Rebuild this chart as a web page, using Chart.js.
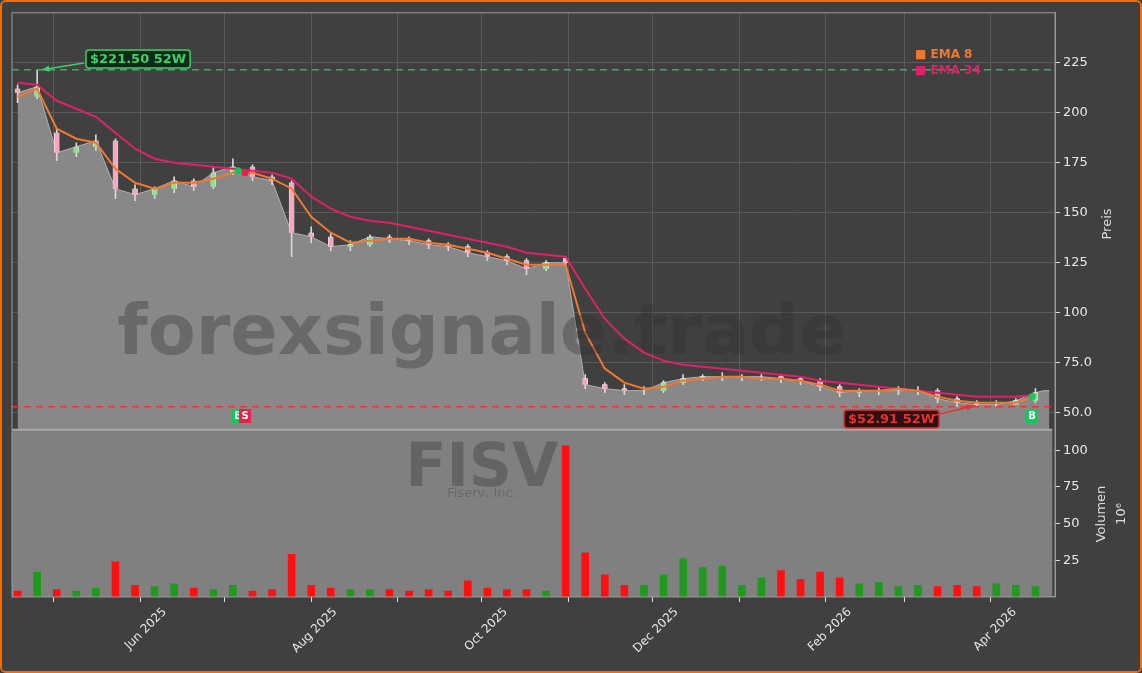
<!DOCTYPE html>
<html>
<head>
<meta charset="utf-8">
<script src="https://cdn.jsdelivr.net/npm/chart.js@4.4.1/dist/chart.umd.min.js"></script>
<style>
  html, body { margin: 0; padding: 0; background: #404040; }
  #wrap { width: 1142px; height: 673px; box-sizing: border-box; border: 2px solid #ff6a00; border-radius: 6px; overflow: hidden; }
</style>
</head>
<body>
<div id="wrap"><canvas id="c" width="1138" height="669"></canvas></div>
<script>
// days counted from 1 Jun 2025, one entry per week
const days = [];
for (let i = 0; i < 53; i++) days.push(-44 + 7 * i);

const closes = [210, 213, 180, 183, 186, 162, 159, 162, 166, 163, 170, 173, 168, 166, 140, 138, 133, 134, 138, 137,
  136, 134, 133, 130, 128, 126, 122, 125, 125, 64, 62, 61, 61, 65, 67, 68, 68, 68, 68, 67,
  66, 63, 60, 61, 61, 61, 61, 57, 55, 54, 54, 56, 60];
const opens = [212, 208, 190, 180, 183, 186, 162, 159, 162, 166, 163, 170, 173, 168, 165, 140, 138, 133, 134, 138,
  137, 136, 134, 133, 130, 128, 126, 122, 127, 67, 64, 62, 61, 61, 65, 67, 68, 68, 68, 68,
  67, 66, 63, 60, 61, 61, 61, 61, 57, 55, 54, 54, 56];
const highs = [214, 221.5, 192, 185, 189, 187, 164, 163, 168, 167, 173, 177, 174, 169, 166, 143, 140, 136, 139, 139,
  138, 137, 135, 134, 131, 129, 127, 126, 128, 69, 65, 64, 63, 66, 69, 69, 70, 69, 69, 69,
  68, 67, 64, 62, 63, 63, 63, 62, 58, 56, 56, 57, 62];
const lows = [205, 207, 176, 178, 181, 157, 156, 157, 160, 161, 162, 169, 166, 164, 128, 135, 131, 131, 133, 135,
  134, 132, 131, 128, 126, 124, 119, 121, 123, 62, 60, 59, 59, 60, 64, 66, 66, 66, 66, 65,
  64, 61, 58, 58, 59, 59, 59, 55, 53, 53, 53, 54, 55];
const ema8 = [208, 212, 192, 187, 185, 172, 165, 162, 165, 165, 167, 170, 170, 167, 162, 148, 140, 135, 136, 137,
  137, 135, 134, 132, 130, 127, 124, 124, 124, 90, 72, 65, 62, 63, 66, 67, 68, 68, 67, 67,
  66, 64, 61, 61, 61, 62, 61, 58, 56, 55, 55, 55, 58];
const ema34 = [215, 214, 206, 202, 198, 190, 182, 177, 175, 174, 173, 172, 171, 170, 167, 158, 152, 148, 146, 145,
  143, 141, 139, 137, 135, 133, 130, 129, 128, 112, 97, 87, 80, 76, 74, 73, 72, 71, 70, 69,
  68, 66, 65, 64, 63, 62, 61, 60, 59, 58, 58, 58, 59];
const volumes = [4, 17, 5, 4, 6, 24, 8, 7, 9, 6, 5, 8, 4, 5, 29, 8, 6, 5, 5, 5,
  4, 5, 4, 11, 6, 5, 5, 4, 103, 30, 15, 8, 8, 15, 26, 20, 21, 8, 13, 18,
  12, 17, 13, 9, 10, 7, 8, 7, 8, 7, 9, 8, 7];

const monthDays = [-31, 0, 30, 61, 92, 122, 153, 183, 214, 245, 273, 304];
const monthNames = ['', 'Jun 2025', '', 'Aug 2025', '', 'Oct 2025', '', 'Dec 2025', '', 'Feb 2026', '', 'Apr 2026'];
const priceTicks = [50, 75, 100, 125, 150, 175, 200, 225];
const volumeTicks = [25, 50, 75, 100];
const high52 = 221.5, low52 = 52.91;
const endDay = 326;

const pts = arr => arr.map((v, i) => ({ x: days[i], y: v }));
const up = i => closes[i] >= opens[i];
const areaPts = pts(closes).concat([{ x: days[52] + 3, y: 61 }, { x: endDay - 1, y: 61 }]);

const overlay = {
  id: 'overlay',
  beforeDraw(chart) {
    const { ctx } = chart;
    ctx.save();
    ctx.fillStyle = '#404040';
    ctx.fillRect(0, 0, chart.width, chart.height);
    ctx.restore();
  },
  beforeDatasetsDraw(chart) {
    const { ctx, chartArea: a, scales } = chart;
    const x = scales.x, v = scales.yv;
    ctx.save();
    ctx.fillStyle = '#808080';
    ctx.fillRect(a.left, v.top, x.getPixelForValue(endDay) - a.left, v.bottom - v.top);
    ctx.restore();
  },
  afterDatasetsDraw(chart) {
    const { ctx, chartArea: a, scales } = chart;
    const x = scales.x, y = scales.y, v = scales.yv;
    ctx.save();
    // watermark
    ctx.textAlign = 'center';
    ctx.textBaseline = 'alphabetic';
    ctx.fillStyle = 'rgba(50,50,50,0.35)';
    ctx.font = 'bold 70px "DejaVu Sans"';
    ctx.fillText('forexsignale.trade', 480, 352);
    ctx.font = 'bold 60px "DejaVu Sans"';
    ctx.fillText('FISV', 480, 484);
    ctx.font = '13px "DejaVu Sans"';
    ctx.fillStyle = 'rgba(60,60,60,0.35)';
    ctx.fillText('Fiserv, Inc.', 480, 495);
    // separator
    ctx.strokeStyle = '#a8a8a8';
    ctx.lineWidth = 2;
    ctx.beginPath();
    ctx.moveTo(a.left, v.top); ctx.lineTo(x.getPixelForValue(endDay), v.top);
    ctx.stroke();
    // 52w lines
    ctx.setLineDash([7, 5]);
    ctx.lineWidth = 1.5;
    const yh = y.getPixelForValue(high52), yl = y.getPixelForValue(low52);
    ctx.strokeStyle = '#2fb35f';
    ctx.beginPath(); ctx.moveTo(a.left, yh); ctx.lineTo(a.right, yh); ctx.stroke();
    ctx.strokeStyle = '#e03838';
    ctx.beginPath(); ctx.moveTo(a.left, yl); ctx.lineTo(a.right, yl); ctx.stroke();
    ctx.setLineDash([]);
    // labels
    const box = (text, bx, by, col, bg, ax, ay, tx, ty) => {
      ctx.font = 'bold 13px "DejaVu Sans"';
      const w = ctx.measureText(text).width + 8;
      ctx.fillStyle = bg; ctx.strokeStyle = col; ctx.lineWidth = 1.5;
      ctx.beginPath(); ctx.roundRect(bx, by, w, 18, 3); ctx.fill(); ctx.stroke();
      ctx.fillStyle = col; ctx.textAlign = 'left'; ctx.textBaseline = 'middle';
      ctx.fillText(text, bx + 4, by + 9.5);
      ctx.beginPath(); ctx.moveTo(ax, ay); ctx.lineTo(tx, ty); ctx.stroke();
      const ang = Math.atan2(ty - ay, tx - ax);
      ctx.beginPath();
      ctx.moveTo(tx, ty);
      ctx.lineTo(tx - 8 * Math.cos(ang - 0.4), ty - 8 * Math.sin(ang - 0.4));
      ctx.lineTo(tx - 8 * Math.cos(ang + 0.4), ty - 8 * Math.sin(ang + 0.4));
      ctx.closePath(); ctx.fill();
    };
    box('$221.50 52W', 84, 48, '#3ccf6a', '#0f2a18', 82, 61, 40, yh);
    box('$52.91 52W', 842, 408, '#e83030', '#2a1010', 930, 414, 972, yl - 1);
    // signal markers
    const mark = (px, txt, col) => {
      ctx.fillStyle = col;
      ctx.fillRect(px - 6, 407, 12, 14);
      ctx.fillStyle = '#fff'; ctx.font = 'bold 10px "DejaVu Sans"';
      ctx.textAlign = 'center'; ctx.textBaseline = 'middle';
      ctx.fillText(txt, px, 414.5);
    };
    mark(236, 'B', '#14c75a');
    mark(243, 'S', '#e8204a');
    mark(1030, 'B', '#14c75a');
    ctx.fillStyle = '#14c75a';
    ctx.beginPath(); ctx.arc(236, y.getPixelForValue(171), 3.5, 0, 7); ctx.fill();
    ctx.beginPath(); ctx.arc(1030, y.getPixelForValue(58), 3.5, 0, 7); ctx.fill();
    ctx.fillStyle = '#e8204a';
    ctx.beginPath(); ctx.arc(243, y.getPixelForValue(170), 3.5, 0, 7); ctx.fill();
    // legend
    ctx.font = 'bold 12px "DejaVu Sans"'; ctx.textAlign = 'left'; ctx.textBaseline = 'middle';
    ctx.fillStyle = '#f07830'; ctx.fillText('■ EMA 8', 913, 53);
    ctx.fillStyle = '#e0206a'; ctx.fillText('■ EMA 34', 913, 69);
    // axis titles
    ctx.fillStyle = '#ddd'; ctx.font = '13px "DejaVu Sans"'; ctx.textAlign = 'center';
    ctx.translate(1106, 222); ctx.rotate(-Math.PI / 2); ctx.fillText('Preis', 0, 0);
    ctx.setTransform(1, 0, 0, 1, 0, 0);
    ctx.translate(1100, 512); ctx.rotate(-Math.PI / 2); ctx.fillText('Volumen', 0, 0);
    ctx.fillText('10⁶', 0, 20);
    ctx.setTransform(1, 0, 0, 1, 0, 0);
    // frame
    ctx.strokeStyle = '#999'; ctx.lineWidth = 1;
    ctx.strokeRect(a.left, a.top, a.right - a.left, a.bottom - a.top);
    ctx.restore();
  }
};

const tickColor = '#e8e8e8';
const grid = { color: '#5a5a5a', tickColor: '#ddd', tickLength: 5, offset: false };
new Chart(document.getElementById('c'), {
  type: 'bar',
  data: {
    datasets: [
      { type: 'line', data: areaPts, yAxisID: 'y', borderColor: '#b0b0b0', borderWidth: 1,
        backgroundColor: '#888888', fill: 'start', pointRadius: 0, tension: 0, order: 10 },
      { data: days.map((d, i) => ({ x: d, y: [lows[i], highs[i]] })), yAxisID: 'y', grouped: false,
        backgroundColor: '#d8d8d8', barThickness: 1, order: 6 },
      { data: days.map((d, i) => ({ x: d, y: [opens[i], closes[i]] })), yAxisID: 'y', grouped: false,
        backgroundColor: days.map((d, i) => up(i) ? '#8fe08f' : '#f5a8bc'),
        borderColor: '#ffffff', borderWidth: 0.5, barThickness: 5, order: 5 },
      { type: 'line', data: pts(ema34), yAxisID: 'y', borderColor: '#e0206a', borderWidth: 2,
        pointRadius: 0, fill: false, order: 2 },
      { type: 'line', data: pts(ema8), yAxisID: 'y', borderColor: '#f07830', borderWidth: 2,
        pointRadius: 0, fill: false, order: 1 },
      { data: days.map((d, i) => ({ x: d, y: volumes[i] })), yAxisID: 'yv', grouped: false,
        backgroundColor: days.map((d, i) => up(i) ? '#1f9a1f' : '#ff1010'), barThickness: 7, order: 3 }
    ]
  },
  options: {
    responsive: false,
    animation: false,
    layout: { padding: { left: 10, top: 10, right: 0, bottom: 12 } },
    plugins: { legend: { display: false }, tooltip: { enabled: false } },
    scales: {
      x: {
        type: 'linear', min: -46, max: 327, offset: false,
        afterBuildTicks: s => { s.ticks = monthDays.map(d => ({ value: d })); },
        ticks: { color: tickColor, maxRotation: 45, minRotation: 45, autoSkip: false, labelOffset: 24,
          font: { size: 12, family: 'DejaVu Sans' }, callback: (v, i) => monthNames[i] },
        grid,
        border: { color: '#999' }
      },
      y: {
        position: 'right', stack: 'p', stackWeight: 416, min: 41.5, max: 250,
        afterBuildTicks: s => { s.ticks = priceTicks.map(v => ({ value: v })); },
        ticks: { color: tickColor, font: { size: 13, family: 'DejaVu Sans' },
          callback: v => v < 100 ? v.toFixed(1) : String(v) },
        grid,
        border: { color: '#999' },
        afterFit: s => { s.width = 85; }
      },
      yv: {
        position: 'right', stack: 'p', stackWeight: 167, min: 0, max: 114, offset: false,
        afterBuildTicks: s => { s.ticks = volumeTicks.map(v => ({ value: v })); },
        ticks: { color: tickColor, font: { size: 13, family: 'DejaVu Sans' } },
        grid,
        border: { color: '#999' },
        afterFit: s => { s.width = 85; }
      }
    }
  },
  plugins: [overlay]
});
</script>
</body>
</html>
